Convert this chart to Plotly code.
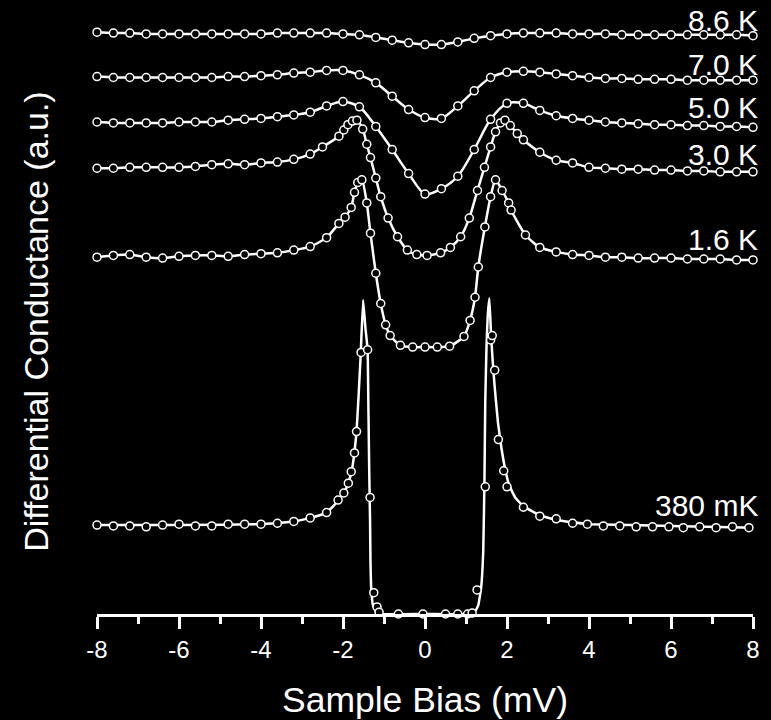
import plotly.graph_objects as go

# ---------------- data ----------------
# common bias grid (mV) for the three warmest curves
X_GRID = [-8.0, -7.6, -7.2, -6.8, -6.4, -6.0, -5.6, -5.2, -4.8, -4.4, -4.0,
          -3.6, -3.2, -2.8, -2.4, -2.0, -1.6, -1.2, -0.8, -0.4, 0.0,
          0.4, 0.8, 1.2, 1.6, 2.0, 2.4, 2.8, 3.2, 3.6, 4.0,
          4.4, 4.8, 5.2, 5.6, 6.0, 6.4, 6.8, 7.2, 7.6, 8.0]

G_8_6K = [1.04, 1.03, 1.03, 1.02, 1.02, 1.02, 1.02, 1.02, 1.02, 1.02, 1.02,
          1.03, 1.03, 1.03, 1.03, 1.02, 1.01, 0.98, 0.95, 0.92, 0.90,
          0.90, 0.93, 0.97, 1.00, 1.02, 1.03, 1.03, 1.03, 1.02, 1.02,
          1.02, 1.01, 1.01, 1.01, 1.01, 1.01, 1.01, 1.01, 1.01, 1.00]

G_7_0K = [1.04, 1.03, 1.03, 1.03, 1.03, 1.03, 1.03, 1.03, 1.04, 1.04, 1.05,
          1.06, 1.08, 1.09, 1.11, 1.11, 1.06, 0.97, 0.82, 0.67, 0.58,
          0.57, 0.71, 0.88, 1.03, 1.09, 1.10, 1.09, 1.07, 1.05, 1.03,
          1.02, 1.02, 1.01, 1.01, 1.01, 1.00, 1.00, 1.00, 1.00, 1.00]

G_5_0K = [1.03, 1.02, 1.02, 1.02, 1.02, 1.03, 1.03, 1.03, 1.05, 1.06, 1.07,
          1.09, 1.11, 1.14, 1.21, 1.26, 1.20, 0.98, 0.72, 0.45, 0.22,
          0.28, 0.42, 0.72, 1.06, 1.24, 1.24, 1.16, 1.10, 1.07, 1.05,
          1.03, 1.02, 1.01, 1.00, 1.00, 0.99, 0.99, 0.98, 0.98, 0.97]

X_3_0K = [-8.0, -7.6, -7.2, -6.8, -6.4, -6.0, -5.6, -5.2, -4.8, -4.4, -4.0,
          -3.6, -3.2, -2.8, -2.5, -2.1, -1.98, -1.88, -1.77, -1.66, -1.52,
          -1.42, -1.33, -1.2, -1.08, -0.9, -0.67, -0.43, -0.2, 0.05, 0.38,
          0.62, 0.87, 1.08, 1.28, 1.45, 1.6, 1.72, 1.84, 1.95, 2.08,
          2.25, 2.4, 2.8, 3.2, 3.6, 4.0, 4.4, 4.8, 5.2, 5.6,
          6.0, 6.4, 6.8, 7.2, 7.6, 8.0]
G_3_0K = [1.01, 1.01, 1.02, 1.02, 1.02, 1.02, 1.03, 1.05, 1.06, 1.05, 1.07,
          1.08, 1.11, 1.17, 1.25, 1.37, 1.44, 1.50, 1.54, 1.55, 1.45,
          1.28, 1.13, 0.90, 0.69, 0.45, 0.24, 0.09, 0.04, 0.03, 0.06,
          0.12, 0.24, 0.45, 0.76, 1.02, 1.25, 1.42, 1.52, 1.55, 1.49,
          1.40, 1.33, 1.19, 1.10, 1.07, 1.02, 1.01, 1.00, 1.00, 0.99,
          0.99, 0.98, 0.98, 0.97, 0.97, 0.97]

X_1_6K = [-8.0, -7.6, -7.2, -6.8, -6.4, -6.0, -5.6, -5.2, -4.8, -4.4, -4.0,
          -3.6, -3.2, -2.8, -2.4, -2.1, -1.95, -1.8, -1.72, -1.64, -1.54,
          -1.42, -1.33, -1.2, -1.08, -0.96, -0.85, -0.6, -0.3, 0.0, 0.3,
          0.6, 0.95, 1.1, 1.22, 1.3, 1.46, 1.6, 1.72, 1.88, 2.04,
          2.1, 2.45, 2.8, 3.2, 3.6, 4.0, 4.4, 4.8, 5.2, 5.6,
          6.0, 6.4, 6.8, 7.2, 7.6, 8.0]
G_1_6K = [1.01, 1.03, 1.04, 1.01, 1.00, 1.02, 1.03, 1.03, 1.02, 1.04, 1.05,
          1.06, 1.09, 1.13, 1.23, 1.39, 1.46, 1.57, 1.74, 1.85, 1.88,
          1.62, 1.28, 0.83, 0.49, 0.25, 0.13, 0.02, 0.00, 0.00, 0.00,
          0.01, 0.12, 0.30, 0.56, 0.90, 1.35, 1.69, 1.88, 1.76, 1.62,
          1.54, 1.26, 1.12, 1.07, 1.04, 1.03, 1.01, 1.01, 1.00, 1.00,
          1.00, 0.99, 0.99, 0.99, 0.98, 0.98]

# 380 mK: measured points
X_380MK = [-8.0, -7.6, -7.2, -6.8, -6.4, -6.0, -5.6, -5.2, -4.8, -4.4, -4.0,
           -3.6, -3.2, -2.8, -2.4, -2.12, -1.98, -1.87, -1.8, -1.72, -1.67,
           -1.56, -1.40, -1.34, -1.25, -1.17, -1.12, -0.96, -0.65, -0.35, -0.05,
           0.2, 0.5, 0.8, 0.92, 1.04, 1.15, 1.27, 1.47, 1.60, 1.64,
           1.70, 1.79, 1.92, 2.0, 2.4, 2.8, 3.2, 3.6, 3.96, 4.35,
           4.75, 5.15, 5.55, 5.95, 6.3, 6.7, 7.1, 7.5, 7.9]
G_380MK = [1.00, 0.99, 0.99, 0.98, 1.00, 1.01, 0.99, 0.99, 1.01, 1.01, 1.01,
           1.02, 1.04, 1.08, 1.14, 1.28, 1.36, 1.47, 1.60, 1.81, 2.05,
           2.94, 2.97, 1.31, 0.24, 0.08, 0.02, -0.01, 0.00, -0.01, 0.00,
           -0.01, 0.00, 0.00, -0.01, 0.00, 0.01, 0.27, 1.43, 3.08, 3.13,
           2.74, 1.96, 1.61, 1.43, 1.20, 1.10, 1.07, 1.02, 1.01, 0.99,
           0.99, 0.98, 0.98, 0.98, 0.97, 0.98, 0.97, 0.98, 0.97]

# 380 mK: fitted curve (solid line)
X_380MK_FIT = [-8.0, -6.0, -4.0, -3.2, -2.8, -2.4, -2.12, -1.98, -1.87, -1.78,
               -1.72, -1.67, -1.62, -1.57, -1.51, -1.46, -1.40, -1.38, -1.36, -1.34,
               -1.33, -1.31, -1.27, -1.20, -1.10, 0.0, 1.15, 1.22, 1.30, 1.37,
               1.42, 1.45, 1.47, 1.50, 1.53, 1.57, 1.61, 1.65, 1.70, 1.78,
               1.86, 1.95, 2.05, 2.2, 2.4, 2.8, 3.2, 3.6, 4.0, 6.0, 8.0]
G_380MK_FIT = [1.00, 1.00, 1.01, 1.04, 1.08, 1.14, 1.27, 1.36, 1.47, 1.63,
               1.82, 2.05, 2.45, 2.90, 3.53, 3.25, 2.97, 2.3, 1.6, 1.05,
               0.6, 0.27, 0.10, 0.03, 0.00, 0.00, 0.00, 0.03, 0.10, 0.30,
               0.70, 1.50, 2.40, 3.00, 3.35, 3.55, 3.15, 2.85, 2.55, 2.15,
               1.88, 1.64, 1.45, 1.31, 1.21, 1.11, 1.06, 1.03, 1.01, 0.99, 0.97]

TEMPS = ["380 mK", "1.6 K", "3.0 K", "5.0 K", "7.0 K", "8.6 K"]
OFFSETS = [0.0, 3.0, 4.0, 4.5, 5.0, 5.5]
LABEL_Y = [1.22, 4.21, 5.17, 5.69, 6.18, 6.67]   # label heights (plot units)

TICK_VALS = [-8, -6, -4, -2, 0, 2, 4, 6, 8]
TICK_LABELS = ["-8", "-6", "-4", "-2", "0", "2", "4", "6", "8"]

# ---------------- figure ----------------
FONT = "Liberation Sans, Arial, Helvetica, sans-serif"
WHITE = "white"
LINE_W = 2.5
MARKER = dict(symbol="circle", size=8, color="black",
              line=dict(color=WHITE, width=1.5))

fig = go.Figure()


def add_curve(xs, gs, offset, smooth=0.8):
    fig.add_trace(go.Scatter(
        x=xs, y=[g + offset for g in gs], mode="lines+markers",
        line=dict(color=WHITE, width=LINE_W, shape="spline", smoothing=smooth),
        marker=MARKER, cliponaxis=False, showlegend=False, hoverinfo="skip"))


# 380 mK: fit line then data points
fig.add_trace(go.Scatter(
    x=X_380MK_FIT, y=[g + OFFSETS[0] for g in G_380MK_FIT], mode="lines",
    line=dict(color=WHITE, width=LINE_W, shape="spline", smoothing=0.3),
    cliponaxis=False, showlegend=False, hoverinfo="skip"))
fig.add_trace(go.Scatter(
    x=X_380MK, y=[g + OFFSETS[0] for g in G_380MK], mode="markers",
    marker=MARKER, cliponaxis=False, showlegend=False, hoverinfo="skip"))

add_curve(X_1_6K, G_1_6K, OFFSETS[1], 0.6)
add_curve(X_3_0K, G_3_0K, OFFSETS[2], 0.7)
add_curve(X_GRID, G_5_0K, OFFSETS[3])
add_curve(X_GRID, G_7_0K, OFFSETS[4])
add_curve(X_GRID, G_8_6K, OFFSETS[5])

annotations = []
for t, ly in zip(TEMPS, LABEL_Y):
    annotations.append(dict(
        x=1.0107, y=ly, xref="paper", yref="y", text=t, showarrow=False,
        xanchor="right", yanchor="middle",
        font=dict(family=FONT, size=30, color=WHITE)))

annotations.append(dict(
    x=-0.092, y=0.484, xref="paper", yref="paper",
    text="Differential Conductance (a.u.)", showarrow=False,
    textangle=-90, xanchor="center", yanchor="middle",
    font=dict(family=FONT, size=34, color=WHITE)))

fig.update_layout(
    width=771, height=720,
    paper_bgcolor="black", plot_bgcolor="black",
    margin=dict(l=97, r=18, t=9, b=106, autoexpand=False),
    showlegend=False,
    annotations=annotations,
    xaxis=dict(
        range=[-8, 8], showgrid=False, zeroline=False,
        showline=True, linecolor=WHITE, linewidth=2.5,
        ticks="outside", ticklen=12, tickwidth=2.5, tickcolor=WHITE,
        tickvals=TICK_VALS, ticktext=TICK_LABELS,
        tickfont=dict(family=FONT, size=24, color=WHITE),
        minor=dict(dtick=1, tick0=-8, ticks="outside", ticklen=7,
                   tickwidth=2.5, tickcolor=WHITE, showgrid=False),
        title=dict(text="Sample Bias (mV)", standoff=26,
                   font=dict(family=FONT, size=35.5, color=WHITE)),
        automargin=False,
    ),
    yaxis=dict(
        range=[0, 6.8], visible=True, showgrid=False, zeroline=False,
        showline=False, showticklabels=False, ticks="",
        automargin=False,
    ),
)

fig.write_html(
    "out.html",
    config={"displayModeBar": False},
    post_script="document.body.style.margin='0';"
                "document.body.style.background='black';",
)
